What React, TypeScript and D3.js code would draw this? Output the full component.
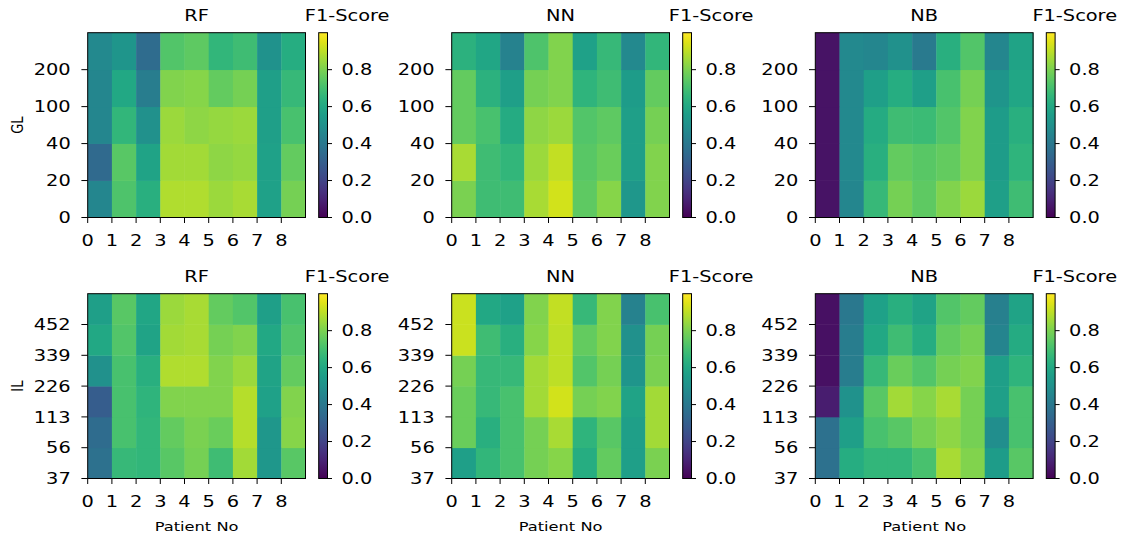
import React from "react";
import * as d3 from "d3";

// ---- data (rows listed bottom -> top, 9 patients per row)
const patients = [0, 1, 2, 3, 4, 5, 6, 7, 8];
const glLevels = ["0", "20", "40", "100", "200"];
const ilLevels = ["37", "56", "113", "226", "339", "452"];
const models = ["RF", "NN", "NB"];
const cbTicks = [0, 0.2, 0.4, 0.6, 0.8];

const rfGL = [
  [0.46, 0.72, 0.63, 0.88, 0.88, 0.85, 0.87, 0.57, 0.79],
  [0.34, 0.74, 0.58, 0.86, 0.86, 0.83, 0.84, 0.57, 0.76],
  [0.46, 0.66, 0.5, 0.85, 0.83, 0.84, 0.85, 0.56, 0.71],
  [0.46, 0.6, 0.42, 0.81, 0.82, 0.76, 0.79, 0.56, 0.67],
  [0.47, 0.52, 0.35, 0.73, 0.75, 0.66, 0.69, 0.51, 0.62]
];
const nnGL = [
  [0.8, 0.69, 0.69, 0.87, 0.93, 0.75, 0.82, 0.53, 0.81],
  [0.87, 0.69, 0.66, 0.85, 0.91, 0.74, 0.77, 0.56, 0.81],
  [0.76, 0.71, 0.61, 0.83, 0.85, 0.73, 0.75, 0.56, 0.79],
  [0.76, 0.64, 0.56, 0.79, 0.81, 0.65, 0.69, 0.55, 0.76],
  [0.64, 0.59, 0.44, 0.72, 0.81, 0.57, 0.67, 0.47, 0.66]
];
const nbGL = [
  [0.05, 0.46, 0.67, 0.79, 0.75, 0.81, 0.85, 0.56, 0.69],
  [0.05, 0.47, 0.63, 0.76, 0.74, 0.76, 0.81, 0.55, 0.65],
  [0.05, 0.47, 0.61, 0.69, 0.68, 0.73, 0.81, 0.55, 0.63],
  [0.05, 0.47, 0.56, 0.62, 0.56, 0.71, 0.79, 0.52, 0.59],
  [0.05, 0.47, 0.46, 0.5, 0.41, 0.63, 0.73, 0.46, 0.58]
];
const rfIL = [
  [0.37, 0.67, 0.66, 0.74, 0.79, 0.69, 0.86, 0.53, 0.74],
  [0.35, 0.71, 0.66, 0.76, 0.8, 0.77, 0.89, 0.53, 0.82],
  [0.29, 0.71, 0.65, 0.81, 0.81, 0.81, 0.89, 0.57, 0.81],
  [0.5, 0.71, 0.63, 0.88, 0.88, 0.81, 0.85, 0.58, 0.76],
  [0.6, 0.73, 0.58, 0.86, 0.87, 0.79, 0.81, 0.6, 0.73],
  [0.56, 0.74, 0.59, 0.85, 0.87, 0.76, 0.73, 0.56, 0.71]
];
const nnIL = [
  [0.56, 0.66, 0.71, 0.79, 0.82, 0.62, 0.76, 0.56, 0.8],
  [0.77, 0.63, 0.71, 0.79, 0.87, 0.65, 0.74, 0.56, 0.86],
  [0.77, 0.67, 0.71, 0.86, 0.93, 0.79, 0.81, 0.58, 0.86],
  [0.79, 0.67, 0.67, 0.86, 0.9, 0.73, 0.79, 0.52, 0.8],
  [0.92, 0.69, 0.63, 0.82, 0.9, 0.76, 0.81, 0.5, 0.79],
  [0.92, 0.6, 0.57, 0.81, 0.91, 0.67, 0.81, 0.44, 0.71]
];
const nbIL = [
  [0.37, 0.62, 0.66, 0.66, 0.71, 0.87, 0.81, 0.55, 0.74],
  [0.37, 0.56, 0.71, 0.74, 0.79, 0.83, 0.79, 0.49, 0.71],
  [0.08, 0.51, 0.74, 0.86, 0.82, 0.87, 0.79, 0.56, 0.71],
  [0.04, 0.42, 0.67, 0.77, 0.73, 0.79, 0.81, 0.56, 0.65],
  [0.04, 0.42, 0.6, 0.69, 0.62, 0.76, 0.79, 0.45, 0.61],
  [0.04, 0.4, 0.57, 0.63, 0.58, 0.73, 0.76, 0.43, 0.58]
];

const rowsData = [
  { label: "GL", levels: glLevels, grids: [rfGL, nnGL, nbGL] },
  { label: "IL", levels: ilLevels, grids: [rfIL, nnIL, nbIL] }
];

// ---- layout (the reference is stretched sideways, so text gets scaled by sx)
const sx = 1.25;
const font = "DejaVu Sans";
const panelLeft = [87.7, 451.7, 815.3];
const panelTop = [32.7, 293.7];
const panelW = 217.8;
const panelH = 184.8;
const cbOffset = 231;
const cbW = 8.8;

const color = d3.scaleSequential(d3.interpolateViridis).domain([0, 1]);

const T = ({ x, y, anchor = "start", size = 15.5, children }: any) => (
  <text
    transform={`translate(${x},${y}) scale(${sx},1)`}
    textAnchor={anchor}
    fontFamily={font}
    fontSize={size}
    fill="#000"
  >
    {children}
  </text>
);

const Heatmap = ({ grid, levels, left, top, title, ylabel, xlabel, gid }: any) => {
  const x = d3.scaleLinear().domain([0, patients.length]).range([left, left + panelW]);
  const y = d3.scaleLinear().domain([0, levels.length]).range([top + panelH, top]);
  const cb = d3.scaleLinear().domain([0, 1]).range([top + panelH, top]);
  const cbX = left + cbOffset;
  const stops = d3.range(0, 1.0001, 0.05);

  return (
    <g>
      {grid.map((row: number[], ri: number) =>
        row.map((v, ci) => (
          <rect
            key={`${ri}-${ci}`}
            x={x(ci)}
            y={y(ri + 1)}
            width={x(ci + 1) - x(ci) + 0.4}
            height={y(ri) - y(ri + 1) + 0.4}
            fill={color(v)}
          />
        ))
      )}
      <rect x={left} y={top} width={panelW} height={panelH} fill="none" stroke="#000" strokeWidth={1} />

      {/* x ticks at cell edges */}
      {patients.map(p => (
        <g key={p}>
          <line x1={x(p)} x2={x(p)} y1={top + panelH} y2={top + panelH + 5.5} stroke="#000" strokeWidth={1} />
          <T x={x(p)} y={top + panelH + 28.5} anchor="middle">{p}</T>
        </g>
      ))}

      {/* y ticks */}
      {levels.map((l: string, i: number) => (
        <g key={l}>
          <line x1={left - 6.3} x2={left} y1={y(i)} y2={y(i)} stroke="#000" strokeWidth={1} />
          <T x={left - 17} y={y(i) + 5.6} anchor="end">{l}</T>
        </g>
      ))}

      <T x={left + panelW / 2} y={top - 11.5} anchor="middle">{title}</T>

      {/* colorbar */}
      <defs>
        <linearGradient id={gid} x1="0" y1="1" x2="0" y2="0">
          {stops.map(s => (
            <stop key={s} offset={s} stopColor={color(s)} />
          ))}
        </linearGradient>
      </defs>
      <rect x={cbX} y={top} width={cbW} height={panelH} fill={`url(#${gid})`} stroke="#000" strokeWidth={1} />
      {cbTicks.map(t => (
        <g key={t}>
          <line x1={cbX + cbW} x2={cbX + cbW + 4.5} y1={cb(t)} y2={cb(t)} stroke="#000" strokeWidth={1} />
          <T x={cbX + cbW + 14} y={cb(t) + 5.6}>{t.toFixed(1)}</T>
        </g>
      ))}
      <T x={left + panelW - 0.7} y={top - 11.5}>F1-Score</T>

      {ylabel && (
        <text
          transform={`translate(22.5,${top + panelH / 2}) scale(${sx},1) rotate(-90)`}
          textAnchor="middle"
          fontFamily={font}
          fontSize={13}
        >
          {ylabel}
        </text>
      )}
      {xlabel && <T x={left + panelW / 2} y={531} anchor="middle" size={13}>{xlabel}</T>}
    </g>
  );
};

export default function App() {
  return (
    <svg
      width={1129}
      height={537}
      style={{ position: "absolute", left: 0, top: 0, background: "#fff" }}
    >
      <rect width={1129} height={537} fill="#fff" />
      {rowsData.map((r, ri) =>
        r.grids.map((g, ci) => (
          <Heatmap
            key={`${ri}-${ci}`}
            gid={`cb-${ri}-${ci}`}
            grid={g}
            levels={r.levels}
            left={panelLeft[ci]}
            top={panelTop[ri]}
            title={models[ci]}
            ylabel={ci === 0 ? r.label : null}
            xlabel={ri === 1 ? "Patient No" : null}
          />
        ))
      )}
    </svg>
  );
}
